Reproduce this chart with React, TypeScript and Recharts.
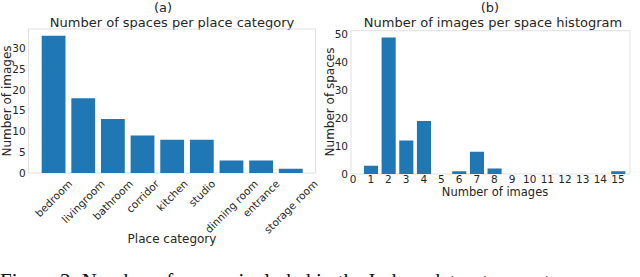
import { Bar, BarChart, ReferenceArea, XAxis, YAxis } from "recharts";

const categories = [
  "bedroom",
  "livingroom",
  "bathroom",
  "corridor",
  "kitchen",
  "studio",
  "dinning room",
  "entrance",
  "storage room",
];
const spacesPerCategory = [33, 18, 13, 9, 8, 8, 3, 3, 1];

const imageCounts = [1, 2, 3, 4, 5, 6, 7, 8, 9, 10, 11, 12, 13, 14, 15];
const spacesPerImageCount = [3, 49, 12, 19, 0, 1, 8, 2, 0, 0, 0, 0, 0, 0, 1];

const leftYTicks = [0, 5, 10, 15, 20, 25, 30];
const rightXTicks = [0, 1, 2, 3, 4, 5, 6, 7, 8, 9, 10, 11, 12, 13, 14, 15];
const rightYTicks = [0, 10, 20, 30, 40, 50];

const leftXDomain: [number, number] = [-0.84, 8.84];
const leftYDomain: [number, number] = [0, 34.65];
const rightXDomain: [number, number] = [-0.12, 15.68];
const rightYDomain: [number, number] = [0, 51.45];

const FONT = "'DejaVu Sans', sans-serif";
const INK = "#262626";
const BLUE = "#1f77b4";
const FRAME = "#e0e0e0";
const TICK_SIZE = 10.5;

const categoryData = categories.map((name, i) => ({
  idx: i,
  name,
  count: spacesPerCategory[i],
}));
const histData = imageCounts.map((n, i) => ({
  n,
  count: spacesPerImageCount[i],
}));

let ctx: CanvasRenderingContext2D | null = null;
function textWidth(s: string) {
  if (!ctx) ctx = document.createElement("canvas").getContext("2d");
  if (!ctx) return s.length * TICK_SIZE * 0.6;
  ctx.font = `${TICK_SIZE}px 'DejaVu Sans'`;
  return ctx.measureText(s).width;
}

// matplotlib-style 45° label: rotated box centred under the tick
function RotatedTick(props: any) {
  const { x, y, payload } = props;
  const label = categories[payload.value] ?? "";
  const side = (textWidth(label) + TICK_SIZE) * Math.SQRT1_2;
  const cx = x;
  const cy = y + side / 2;
  return (
    <text
      x={cx}
      y={cy}
      textAnchor="middle"
      dominantBaseline="central"
      fontSize={TICK_SIZE}
      fontFamily={FONT}
      fill={INK}
      transform={`rotate(-45, ${cx}, ${cy})`}
    >
      {label}
    </text>
  );
}

const abs = (extra: React.CSSProperties): React.CSSProperties => ({
  position: "absolute",
  fontFamily: FONT,
  color: INK,
  whiteSpace: "nowrap",
  lineHeight: 1,
  ...extra,
});

export default function App() {
  const tick = { fontSize: TICK_SIZE, fontFamily: FONT, fill: INK };
  return (
    <div
      style={{
        position: "absolute",
        left: 0,
        top: 0,
        width: 640,
        height: 277,
        overflow: "hidden",
        background: "#fff",
      }}
    >
      <div style={abs({ left: 163, top: 7, fontSize: 13, transform: "translate(-50%, -50%)" })}>(a)</div>
      <div style={abs({ left: 172, top: 22, fontSize: 13, transform: "translate(-50%, -50%)" })}>
        Number of spaces per place category
      </div>
      <div style={abs({ left: 490, top: 7, fontSize: 13, transform: "translate(-50%, -50%)" })}>(b)</div>
      <div style={abs({ left: 493, top: 22, fontSize: 13, transform: "translate(-50%, -50%)" })}>
        Number of images per space histogram
      </div>

      <div style={{ position: "absolute", left: 0, top: 0 }}>
        <BarChart
          width={320}
          height={270}
          data={categoryData}
          margin={{ top: 29, right: 4.4, bottom: 7, left: 0 }}
        >
          <ReferenceArea
            x1={leftXDomain[0]}
            x2={leftXDomain[1]}
            y1={leftYDomain[0]}
            y2={leftYDomain[1]}
            fill="none"
            fillOpacity={0}
            stroke={FRAME}
            strokeWidth={1}
            ifOverflow="visible"
          />
          <XAxis
            dataKey="idx"
            type="number"
            domain={leftXDomain}
            allowDataOverflow
            ticks={categories.map((_, i) => i)}
            interval={0}
            height={90}
            axisLine={false}
            tickLine={false}
            tickSize={0}
            tickMargin={5}
            tick={<RotatedTick />}
          />
          <YAxis
            type="number"
            domain={leftYDomain}
            allowDataOverflow
            ticks={leftYTicks}
            interval={0}
            width={28.6}
            axisLine={false}
            tickLine={false}
            tickSize={0}
            tickMargin={3}
            tick={tick}
          />
          <Bar dataKey="count" fill={BLUE} barSize={23.8} isAnimationActive={false} />
        </BarChart>
      </div>

      <div style={{ position: "absolute", left: 320, top: 0 }}>
        <BarChart
          width={320}
          height={270}
          data={histData}
          margin={{ top: 30.7, right: 10, bottom: 6, left: 0 }}
        >
          <ReferenceArea
            x1={rightXDomain[0]}
            x2={rightXDomain[1]}
            y1={rightYDomain[0]}
            y2={rightYDomain[1]}
            fill="none"
            fillOpacity={0}
            stroke={FRAME}
            strokeWidth={1}
            ifOverflow="visible"
          />
          <XAxis
            dataKey="n"
            type="number"
            domain={rightXDomain}
            allowDataOverflow
            ticks={rightXTicks}
            interval={0}
            height={90}
            axisLine={false}
            tickLine={false}
            tickSize={0}
            tickMargin={2}
            tick={tick}
          />
          <YAxis
            type="number"
            domain={rightYDomain}
            allowDataOverflow
            ticks={rightYTicks}
            interval={0}
            width={31}
            axisLine={false}
            tickLine={false}
            tickSize={0}
            tickMargin={3}
            tick={tick}
          />
          <Bar dataKey="count" fill={BLUE} barSize={14.1} isAnimationActive={false} />
        </BarChart>
      </div>

      <div
        style={abs({
          left: 7,
          top: 101,
          fontSize: 12,
          transform: "translate(-50%, -50%) rotate(-90deg)",
        })}
      >
        Number of images
      </div>
      <div style={abs({ left: 172, top: 239, fontSize: 12, transform: "translate(-50%, -50%)" })}>
        Place category
      </div>
      <div
        style={abs({
          left: 330,
          top: 102,
          fontSize: 12,
          transform: "translate(-50%, -50%) rotate(-90deg)",
        })}
      >
        Number of spaces
      </div>
      <div style={abs({ left: 495, top: 193, fontSize: 11.5, transform: "translate(-50%, -50%)" })}>
        Number of images
      </div>

      <div
        style={{
          position: "absolute",
          left: 0,
          top: 271,
          fontFamily: "'Liberation Serif', serif",
          fontSize: 21,
          lineHeight: 1,
          color: "#111",
          whiteSpace: "nowrap",
        }}
      >
        Figure 3: Number of spaces included in the Indoor dataset per category
      </div>
    </div>
  );
}
